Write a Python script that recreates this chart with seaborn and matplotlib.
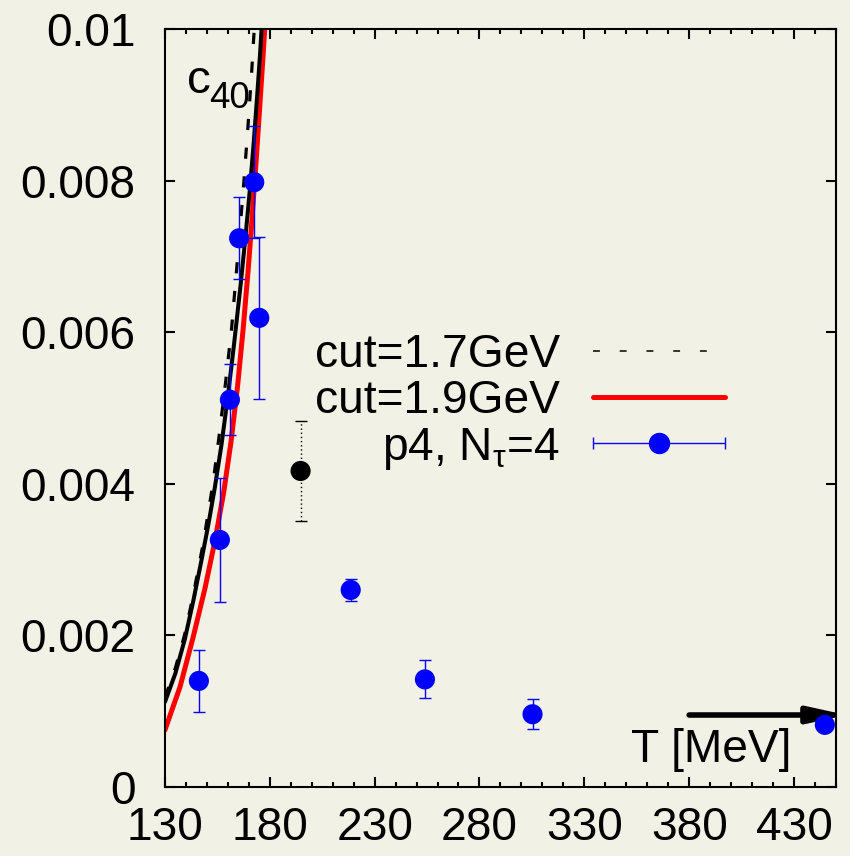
import numpy as np
import matplotlib
matplotlib.use("Agg")
import matplotlib.pyplot as plt
from matplotlib.lines import Line2D
import seaborn as sns
from matplotlib.ticker import MultipleLocator
from matplotlib.legend_handler import HandlerErrorbar

# ---------------- data ----------------
# black solid curve
T_black = [130.0, 135.0, 139.5, 143.5, 147.5, 150.7, 153.8, 157.0, 160.0, 163.0,
           166.2, 168.5, 170.5, 172.2, 174.0, 175.4, 176.2]
c40_black = [0.00112, 0.00150, 0.00195, 0.00245, 0.00300, 0.00346, 0.00395, 0.00452,
             0.00515, 0.00585, 0.00665, 0.00728, 0.00788, 0.00845, 0.00912, 0.00968,
             0.01005]

# cut = 1.7 GeV (black dashed)
T_cut17 = [130.0, 135.0, 139.5, 143.5, 148.3, 153.0, 155.7, 158.9, 161.8, 165.8,
           167.7, 169.7, 171.3, 172.6, 173.2]
c40_cut17 = [0.00118, 0.00157, 0.00202, 0.00253, 0.00322, 0.00402, 0.00460, 0.00533,
             0.00605, 0.00735, 0.00800, 0.00875, 0.00940, 0.01000, 0.01030]

# cut = 1.9 GeV (red)
T_cut19 = [130.0, 137.2, 143.5, 149.1, 153.8, 158.0, 161.5, 164.7, 167.3, 169.7,
           171.5, 173.3, 175.0, 176.7, 178.3, 179.0]
c40_cut19 = [0.00075, 0.00132, 0.00198, 0.00262, 0.00324, 0.00388, 0.00455, 0.00530,
             0.00604, 0.00682, 0.00748, 0.00818, 0.00888, 0.00960, 0.01030, 0.01060]

# p4, N_tau = 4 lattice points
T_p4 = [146.2, 156.2, 161.0, 165.4, 172.6, 175.0, 218.6, 254.0, 305.3, 444.7]
c40_p4 = [0.00140, 0.00326, 0.00511, 0.00724, 0.00798, 0.00619, 0.00260, 0.00142,
          0.00096, 0.00082]
err_p4 = [0.00041, 0.00082, 0.00047, 0.00054, 0.00074, 0.00107, 0.00014, 0.00025,
          0.00020, 0.00004]

# separate black point
T_black_pt = [194.7]
c40_black_pt = [0.00417]
err_black_pt = [0.00066]

x_ticks = [130, 180, 230, 280, 330, 380, 430]
y_ticks = [0, 0.002, 0.004, 0.006, 0.008, 0.01]
y_ticklabels = ["0", "0.002", "0.004", "0.006", "0.008", "0.01"]
legend_labels = ['cut=1.7GeV', 'cut=1.9GeV', r'p4, N$_{\mathrm{τ}}$=4']

# ---------------- style ----------------
sns.set_theme(style="ticks")
plt.rcParams['font.family'] = ['Liberation Sans', 'DejaVu Sans']
plt.rcParams['mathtext.fontset'] = 'custom'
plt.rcParams['mathtext.rm'] = 'Liberation Sans'
plt.rcParams['mathtext.it'] = 'Liberation Sans:italic'
for k in ['text.color', 'axes.labelcolor', 'xtick.color', 'ytick.color',
          'axes.edgecolor']:
    plt.rcParams[k] = 'black'

bg = '#f2f1e6'
FS = 33.2
fig = plt.figure(figsize=(8.5, 8.56), dpi=100, facecolor=bg)
ax = fig.add_axes([0.194, 0.0806, 0.7895, 0.8854])
ax.set_facecolor(bg)

# curves
sns.lineplot(x=T_cut19, y=c40_cut19, ax=ax, color='#ff0000', lw=3.6, sort=False,
             estimator=None)
l19 = ax.lines[-1]
sns.lineplot(x=T_black, y=c40_black, ax=ax, color='black', lw=2.9, sort=False,
             estimator=None)
sns.lineplot(x=T_cut17, y=c40_cut17, ax=ax, color='black', lw=2.3, sort=False,
             estimator=None)
l17 = ax.lines[-1]
l17.set_linestyle((0, (3.5, 5.5)))

# error bars
ax.errorbar(T_p4, c40_p4, yerr=err_p4, fmt='none', ecolor='#0000ff', elinewidth=1,
            capsize=4, capthick=1, zorder=3)
eb = ax.errorbar(T_black_pt, c40_black_pt, yerr=err_black_pt, fmt='none', ecolor='black',
                 elinewidth=1, capsize=4, capthick=1, zorder=3)
eb[2][0].set_linestyle((0, (1, 2)))

# markers
sns.scatterplot(x=T_p4, y=c40_p4, ax=ax, color='#0000ff', s=210, edgecolor='none',
                zorder=4)
sns.scatterplot(x=T_black_pt, y=c40_black_pt, ax=ax, color='black', s=210,
                edgecolor='none', zorder=4)

# legend proxies
pe = ax.errorbar([np.nan], [np.nan], xerr=[1], fmt='o', color='#0000ff', ms=14.4,
                 elinewidth=1, capsize=4, capthick=1)
l17_leg = Line2D([], [], color='black', lw=1.1, dashes=[4.5, 13])

ax.legend(handles=[l17_leg, l19, pe], labels=legend_labels,
          loc='upper right', bbox_to_anchor=(0.835, 0.599), frameon=False,
          markerfirst=False, handlelength=2.87, handletextpad=0.72,
          labelspacing=0.05, fontsize=FS, borderpad=0, borderaxespad=0,
          labelcolor='black',
          handler_map={pe: HandlerErrorbar(xerr_size=1.43, numpoints=1)})

# axes
ax.set_xlim(130, 450)
ax.set_ylim(0, 0.01)
ax.set_xticks(x_ticks)
ax.xaxis.set_minor_locator(MultipleLocator(10))
ax.set_yticks(y_ticks)
ax.set_yticklabels(y_ticklabels)
ax.set_xlabel('')
ax.set_ylabel('')
ax.tick_params(which='both', direction='in', top=True, right=True, width=1.5,
               colors='black', labelsize=FS)
ax.tick_params(which='major', length=7.5)
ax.tick_params(which='minor', length=3.7)
ax.tick_params(axis='y', pad=21)
ax.tick_params(axis='x', pad=14)
for s in ax.spines.values():
    s.set_linewidth(1.5)
    s.set_color('black')

# annotations
ax.annotate('', xy=(455, 0.00095), xytext=(380, 0.00095),
            arrowprops=dict(arrowstyle='-|>,head_length=1.0,head_width=0.22',
                            color='black', lw=4, mutation_scale=22,
                            shrinkA=0, shrinkB=0),
            annotation_clip=False)
ax.text(428.5, 0.00049, 'T [MeV]', ha='right', va='center', fontsize=FS,
        color='black')
ax.text(140.5, 0.00916, 'c', fontsize=FS + 1, va='baseline', color='black')
ax.text(151.3, 0.00896, '40', fontsize=26.5, va='baseline', color='black')

fig.savefig('out.png', dpi=100, facecolor=bg)
